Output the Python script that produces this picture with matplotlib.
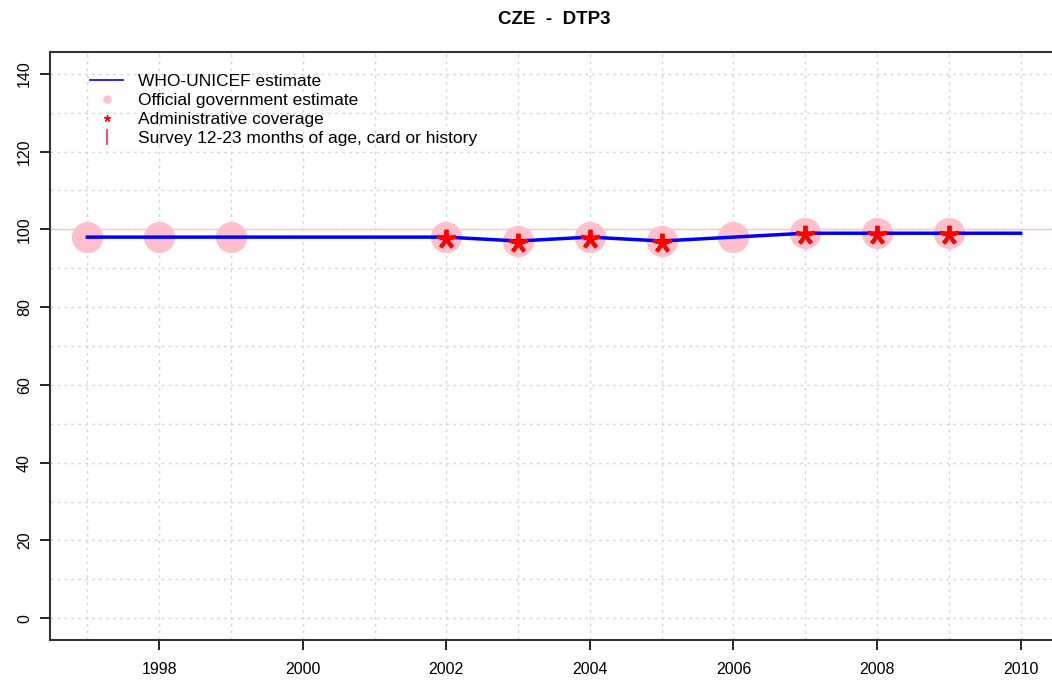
import matplotlib.pyplot as plt
from matplotlib.lines import Line2D

plt.rcParams['font.family'] = ['Liberation Sans', 'DejaVu Sans']

# WHO-UNICEF estimate
wuenic_years = [1997, 1998, 1999, 2000, 2001, 2002, 2003, 2004, 2005, 2006, 2007, 2008, 2009, 2010]
wuenic_vals = [98, 98, 98, 98, 98, 98, 97, 98, 97, 98, 99, 99, 99, 99]

# Official government estimate
gov_years = [1997, 1998, 1999, 2002, 2003, 2004, 2005, 2006, 2007, 2008, 2009]
gov_vals = [98, 98, 98, 98, 97, 98, 97, 98, 99, 99, 99]

# Administrative coverage
admin_years = [2002, 2003, 2004, 2005, 2007, 2008, 2009]
admin_vals = [97.5, 96.5, 97.5, 96.5, 98.5, 98.5, 98.5]

fig = plt.figure(figsize=(10.52, 6.82), dpi=100)
ax = fig.add_axes([50 / 1052, 1 - 640 / 682, 1008 / 1052, 588 / 682])

ax.set_xlim(1996.48, 2010.52)
ax.set_ylim(-5.6, 145.6)

for yr in range(1997, 2011):
    ax.axvline(yr, color='#d4d4d4', lw=1, ls=(0, (2, 3)), zorder=0)
for v in range(0, 150, 10):
    ax.axhline(v, color='#d4d4d4', lw=1, ls=(0, (2, 3)), zorder=0)

ax.axhline(100, color='pink', lw=1, zorder=1)

ax.plot(gov_years, gov_vals, 'o', color='pink', ms=22.5, mec='none', zorder=2)
ax.plot(wuenic_years, wuenic_vals, color='blue', lw=2.5, zorder=3)
ax.plot(admin_years, admin_vals, marker=(5, 2, 0), ls='none', color='red',
        ms=14, mew=2.8, zorder=4)

ax.set_xticks(range(1998, 2011, 2))
ax.set_yticks(range(0, 141, 20))
ax.tick_params(axis='both', direction='out', length=7, width=1.2, labelsize=11.5)
ax.tick_params(axis='x', pad=9)
ax.tick_params(axis='y', pad=6)
for lab in ax.get_yticklabels():
    lab.set_rotation(90)
    lab.set_va('center')

ax.spines['right'].set_visible(False)
for s in ['left', 'bottom', 'top']:
    ax.spines[s].set_linewidth(1.5)
    ax.spines[s].set_color('#333333')

ax.set_title('CZE  -  DTP3', fontsize=13.5, fontweight='bold', pad=20)

handles = [
    Line2D([], [], color='blue', lw=1.2),
    Line2D([], [], marker='o', color='pink', ls='none', ms=6, mec='none'),
    Line2D([], [], marker=(5, 2, 0), color='red', ls='none', ms=5, mew=1),
    Line2D([], [], marker='|', color='#f0507a', ls='none', ms=11, mew=1.5),
]
labels = ['WHO-UNICEF estimate', 'Official government estimate',
          'Administrative coverage', 'Survey 12-23 months of age, card or history']
ax.legend(handles, labels, loc='upper left', bbox_to_anchor=(0.028, 0.983),
          frameon=False, fontsize=12.5, handlelength=1.9, handletextpad=0.85,
          labelspacing=0.21, borderaxespad=0.3)

fig.savefig('out.png', dpi=100)
